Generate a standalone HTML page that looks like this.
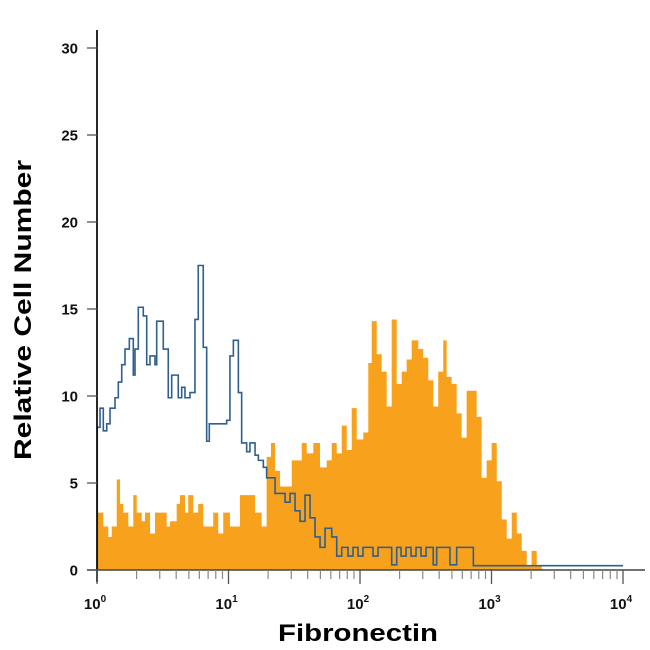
<!DOCTYPE html>
<html><head><meta charset="utf-8"><style>
html,body{margin:0;padding:0;background:#fff;}
svg{display:block;font-family:"Liberation Sans",sans-serif;}
</style></head><body>
<svg id="chart" width="650" height="650" viewBox="0 0 650 650" xmlns="http://www.w3.org/2000/svg">
<g id="plot"></g>
<g id="axes"></g>
<text x="358" y="641" text-anchor="middle" font-size="24" font-weight="bold" textLength="160" lengthAdjust="spacingAndGlyphs">Fibronectin</text>
<text transform="translate(31,310) rotate(-90)" text-anchor="middle" font-size="24" font-weight="bold" textLength="300" lengthAdjust="spacingAndGlyphs">Relative Cell Number</text>
</svg>
<script>
// data: bin start (log10 fluorescence) and counts
const orangeLog = [0.002,0.048,0.086,0.112,0.150,0.175,0.200,0.238,0.276,0.302,0.340,0.365,0.403,0.441,0.530,0.555,0.606,0.631,0.669,0.694,0.732,0.770,0.808,0.884,0.922,0.960,1.011,1.087,1.202,1.252,1.290,1.323,1.354,1.392,1.481,1.557,1.595,1.645,1.696,1.747,1.785,1.823,1.861,1.899,1.937,1.975,2.025,2.063,2.089,2.127,2.165,2.203,2.241,2.279,2.317,2.355,2.393,2.443,2.481,2.519,2.557,2.595,2.633,2.659,2.697,2.735,2.773,2.811,2.887,2.925,2.963,3.001,3.040,3.078,3.116,3.154,3.192,3.230,3.268,3.305,3.344];
const orangeCount = [3.3,2.5,1.9,2.5,5.2,3.8,3.3,2.5,4.3,3.3,2.8,3.3,2.1,3.3,2.5,2.8,3.8,4.3,3.3,4.3,3.3,3.8,2.5,3.3,2.1,3.3,2.5,4.3,3.3,2.5,6.5,7.3,5.7,4.8,6.3,7.3,6.7,7.3,5.9,6.3,7.3,6.7,8.3,6.9,9.3,7.5,7.9,11.9,14.3,12.4,11.4,9.4,14.4,10.7,11.4,12.1,13.2,12.7,12.2,10.9,9.4,11.4,13.2,11.1,10.7,9.0,7.6,10.3,8.8,5.3,6.3,7.3,5.1,2.9,1.8,3.3,2.1,1.1,0.2,1.1,0.2];
const blueLog = [0.002,0.023,0.048,0.074,0.099,0.137,0.162,0.188,0.213,0.246,0.276,0.289,0.314,0.352,0.378,0.403,0.441,0.454,0.504,0.542,0.568,0.618,0.644,0.669,0.707,0.745,0.770,0.808,0.834,0.854,0.986,1.011,1.037,1.075,1.100,1.138,1.163,1.202,1.227,1.265,1.290,1.354,1.430,1.468,1.506,1.544,1.582,1.620,1.658,1.696,1.734,1.785,1.823,1.861,1.909,1.947,1.985,2.023,2.099,2.137,2.241,2.279,2.312,2.350,2.388,2.426,2.464,2.502,2.557,2.583,2.684,2.735,2.862];
const blueCount = [8.2,9.3,8.0,8.4,9.3,9.9,10.8,11.8,12.7,13.3,11.2,12.7,15.1,14.6,11.8,12.3,11.8,14.3,12.7,9.9,11.2,9.9,10.5,9.9,10.2,14.4,17.5,12.8,7.4,8.4,8.6,12.3,13.2,10.2,7.3,6.8,7.3,6.6,6.3,5.9,5.3,4.4,3.9,4.4,3.4,2.8,4.3,3.0,1.9,1.3,2.4,1.9,0.8,1.3,0.8,1.3,0.8,1.3,0.8,1.3,0.3,1.3,0.8,1.3,0.8,1.3,0.8,1.3,0.3,1.3,0.3,1.3,0.25];
const orangeEnd = 3.382, blueEnd = 4.0;
const yTicks = [0,5,10,15,20,25,30];
const xDecades = [0,1,2,3,4];

const NS = "http://www.w3.org/2000/svg";
const X0 = 97, XW = 131.5, Y0 = 570, YU = 17.4;
function sx(l){return X0 + l*XW;}
function sy(v){return Y0 - v*YU;}
function mk(tag, attrs, parent){const e=document.createElementNS(NS,tag);for(const k in attrs)e.setAttribute(k,attrs[k]);parent.appendChild(e);return e;}
const plot=document.getElementById('plot'), axes=document.getElementById('axes');

let d = `M${sx(orangeLog[0])},${Y0}`;
for(let i=0;i<orangeLog.length;i++){
  const xe = i+1<orangeLog.length ? orangeLog[i+1] : orangeEnd;
  d += ` L${sx(orangeLog[i])},${sy(orangeCount[i])} L${sx(xe)},${sy(orangeCount[i])}`;
}
d += ` L${sx(orangeEnd)},${Y0} Z`;
const op = mk('path',{d:d,fill:'#F7A11C',stroke:'none'},plot);



let b = `M${sx(blueLog[0])},${Y0}`;
for(let i=0;i<blueLog.length;i++){
  const xe = i+1<blueLog.length ? blueLog[i+1] : blueEnd;
  b += ` L${sx(blueLog[i])},${sy(blueCount[i])} L${sx(xe)},${sy(blueCount[i])}`;
}
const bp = mk('path',{d:b,fill:'none',stroke:'#2F5F8C','stroke-width':1.6},plot);



const ya = mk('line',{x1:X0,y1:30,x2:X0,y2:582,stroke:'#111','stroke-width':1.8},axes);


const xa = mk('line',{x1:87,y1:Y0,x2:645,y2:Y0,stroke:'#444','stroke-width':1.5},axes);



yTicks.forEach(v=>{
  const t = mk('line',{x1:87,y1:sy(v),x2:X0,y2:sy(v),stroke:'#555','stroke-width':1.3},axes);
  
  
  const l = mk('text',{x:78,y:sy(v)+5.5,'text-anchor':'end','font-size':15,'font-weight':'bold',fill:'#111'},axes);
  l.textContent = v;
  
  
});
xDecades.forEach(dec=>{
  const t = mk('line',{x1:sx(dec),y1:Y0,x2:sx(dec),y2:Y0+14,stroke:'#555','stroke-width':1.3},axes);
  
  
  const l = mk('text',{x:sx(dec)-2,y:609,'text-anchor':'middle','font-size':15,'font-weight':'bold',fill:'#111'},axes);
  
  
  l.textContent = '10';
  const s = mk('tspan',{dy:-7,'font-size':10},l);
  s.textContent = dec;
  if(dec<4){
    for(let m=2;m<=9;m++){
      const mt = mk('line',{x1:sx(dec+Math.log10(m)),y1:Y0,x2:sx(dec+Math.log10(m)),y2:Y0+9,stroke:'#888','stroke-width':1.2},axes);
      
      
    }
  }
});
</script>
</body></html>
